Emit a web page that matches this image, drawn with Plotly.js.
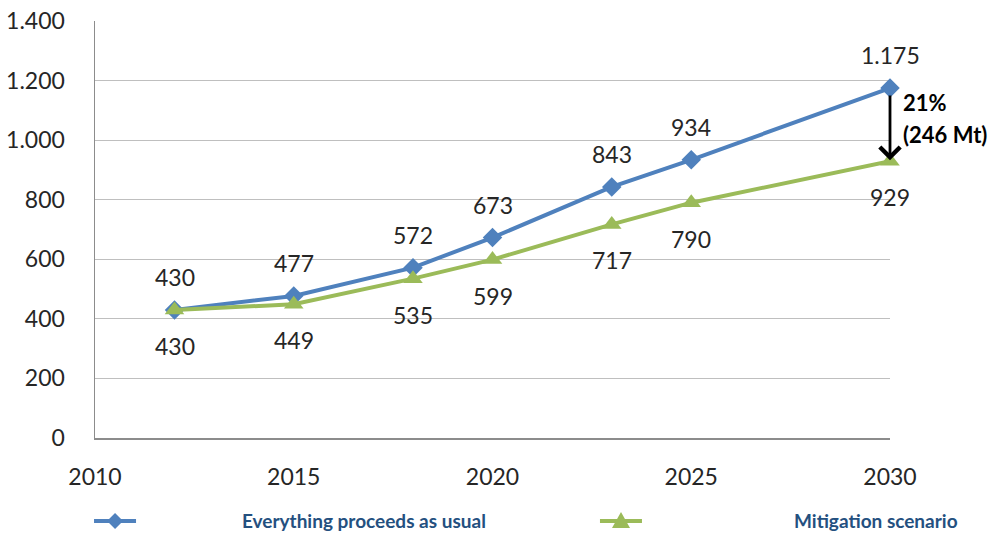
<!DOCTYPE html>
<html>
<head>
<meta charset="utf-8">
<script src="https://cdn.plot.ly/plotly-3.0.1.min.js"></script>
<style>
  html, body { margin: 0; padding: 0; background: #ffffff; }
  #chart { width: 1000px; height: 533px; }
</style>
</head>
<body>
<div id="chart"></div>
<script>
// Emissions (Mt) under two scenarios
const years = [2012, 2015, 2018, 2020, 2023, 2025, 2030];
const usualValues = [430, 477, 572, 673, 843, 934, 1175];
const mitigationValues = [430, 449, 535, 599, 717, 790, 929];
const usualName = 'Everything proceeds as usual';
const mitigationName = 'Mitigation scenario';
const gapPercent = '21%';
const gapAmount = '(246 Mt)';

const blue = '#4F81BD';
const green = '#9BBB59';
const textColor = '#262626';
const legendColor = '#24507F';
const fontFamily = 'Lato, "Open Sans", sans-serif';

// European style number: thousands separated by '.'
function fmt(v) {
  return String(Math.round(v)).replace(/\B(?=(\d{3})+(?!\d))/g, '.');
}

const traces = [
  {
    x: years, y: usualValues, name: usualName,
    type: 'scatter', mode: 'lines+markers',
    line: { color: blue, width: 4 },
    marker: { symbol: 'diamond', size: 15, color: blue },
    cliponaxis: false, showlegend: false, hoverinfo: 'x+y'
  },
  {
    x: years, y: mitigationValues, name: mitigationName,
    type: 'scatter', mode: 'lines+markers',
    line: { color: green, width: 4 },
    marker: { symbol: 'triangle-up', size: 17, color: green },
    cliponaxis: false, showlegend: false, hoverinfo: 'x+y'
  }
];

const annotations = [];
years.forEach((yr, i) => {
  annotations.push({
    x: yr, y: usualValues[i], xref: 'x', yref: 'y',
    text: fmt(usualValues[i]), showarrow: false, yshift: 33,
    font: { family: fontFamily, size: 23, color: textColor }
  });
  annotations.push({
    x: yr, y: mitigationValues[i], xref: 'x', yref: 'y',
    text: fmt(mitigationValues[i]), showarrow: false, yshift: -36,
    font: { family: fontFamily, size: 23, color: textColor }
  });
});

// Gap arrow at the final year
const lastX = years[years.length - 1];
const lastUsual = usualValues[usualValues.length - 1];
const lastMit = mitigationValues[mitigationValues.length - 1];
annotations.push({
  x: lastX, y: lastMit, xref: 'x', yref: 'y',
  ax: lastX, ay: lastUsual, axref: 'x', ayref: 'y',
  text: '', showarrow: true, arrowhead: 4, arrowsize: 1.4, arrowwidth: 2.8,
  arrowcolor: '#000000', standoff: 1, startstandoff: 6
});
annotations.push({
  x: lastX, y: lastUsual - 48, xref: 'x', yref: 'y',
  text: '<b>' + gapPercent + '</b>', showarrow: false,
  xanchor: 'left', xshift: 11,
  font: { family: fontFamily, size: 22, color: '#000000' }
});
annotations.push({
  x: lastX, y: lastUsual - 155, xref: 'x', yref: 'y',
  text: '<b>' + gapAmount + '</b>', showarrow: false,
  xanchor: 'left', xshift: 11,
  font: { family: fontFamily, size: 22, color: '#000000' }
});

// Legend row below the plot
const legendY = -0.199;
const legendItems = [
  { name: usualName, color: blue, symX: 0.0252, textX: 0.1824,
    path: 'M 0,8 L 8,0 L 0,-8 L -8,0 Z' },
  { name: mitigationName, color: green, symX: 0.6616, textX: 0.8767,
    path: 'M -9,-7 L 9,-7 L 0,9 Z' }
];
const shapes = [];
legendItems.forEach(it => {
  shapes.push({
    type: 'line', xref: 'paper', yref: 'paper',
    xsizemode: 'pixel', ysizemode: 'pixel',
    xanchor: it.symX, yanchor: legendY,
    x0: -21, x1: 21, y0: 0, y1: 0,
    line: { color: it.color, width: 4 }
  });
  shapes.push({
    type: 'path', xref: 'paper', yref: 'paper',
    xsizemode: 'pixel', ysizemode: 'pixel',
    xanchor: it.symX, yanchor: legendY,
    path: it.path, fillcolor: it.color, line: { width: 0 }
  });
  annotations.push({
    x: it.textX, y: legendY, xref: 'paper', yref: 'paper',
    xanchor: 'left', yanchor: 'middle', showarrow: false,
    text: '<b>' + it.name + '</b>',
    font: { family: fontFamily, size: 19, color: legendColor }
  });
});

const layout = {
  width: 1000, height: 533,
  margin: { l: 95, r: 110, t: 21, b: 95 },
  paper_bgcolor: '#ffffff', plot_bgcolor: '#ffffff',
  separators: ',.',
  showlegend: false,
  font: { family: fontFamily, size: 23, color: textColor },
  xaxis: {
    range: [2010, 2030], dtick: 5, tick0: 2010,
    showgrid: false, zeroline: false,
    showline: true, linecolor: '#8C8C8C', linewidth: 1.5,
    ticks: '', ticklabelstandoff: 18,
    tickfont: { family: fontFamily, size: 23, color: textColor }
  },
  yaxis: {
    range: [0, 1400], dtick: 200, tick0: 0, tickformat: ',d',
    showgrid: true, gridcolor: '#BFBFBF', gridwidth: 1.2,
    zeroline: false,
    showline: true, linecolor: '#8C8C8C', linewidth: 1.5,
    ticks: '', ticklabelstandoff: 24,
    tickfont: { family: fontFamily, size: 23, color: textColor }
  },
  annotations: annotations,
  shapes: shapes
};

Plotly.newPlot('chart', traces, layout, { displayModeBar: false, staticPlot: true });
</script>
</body>
</html>
